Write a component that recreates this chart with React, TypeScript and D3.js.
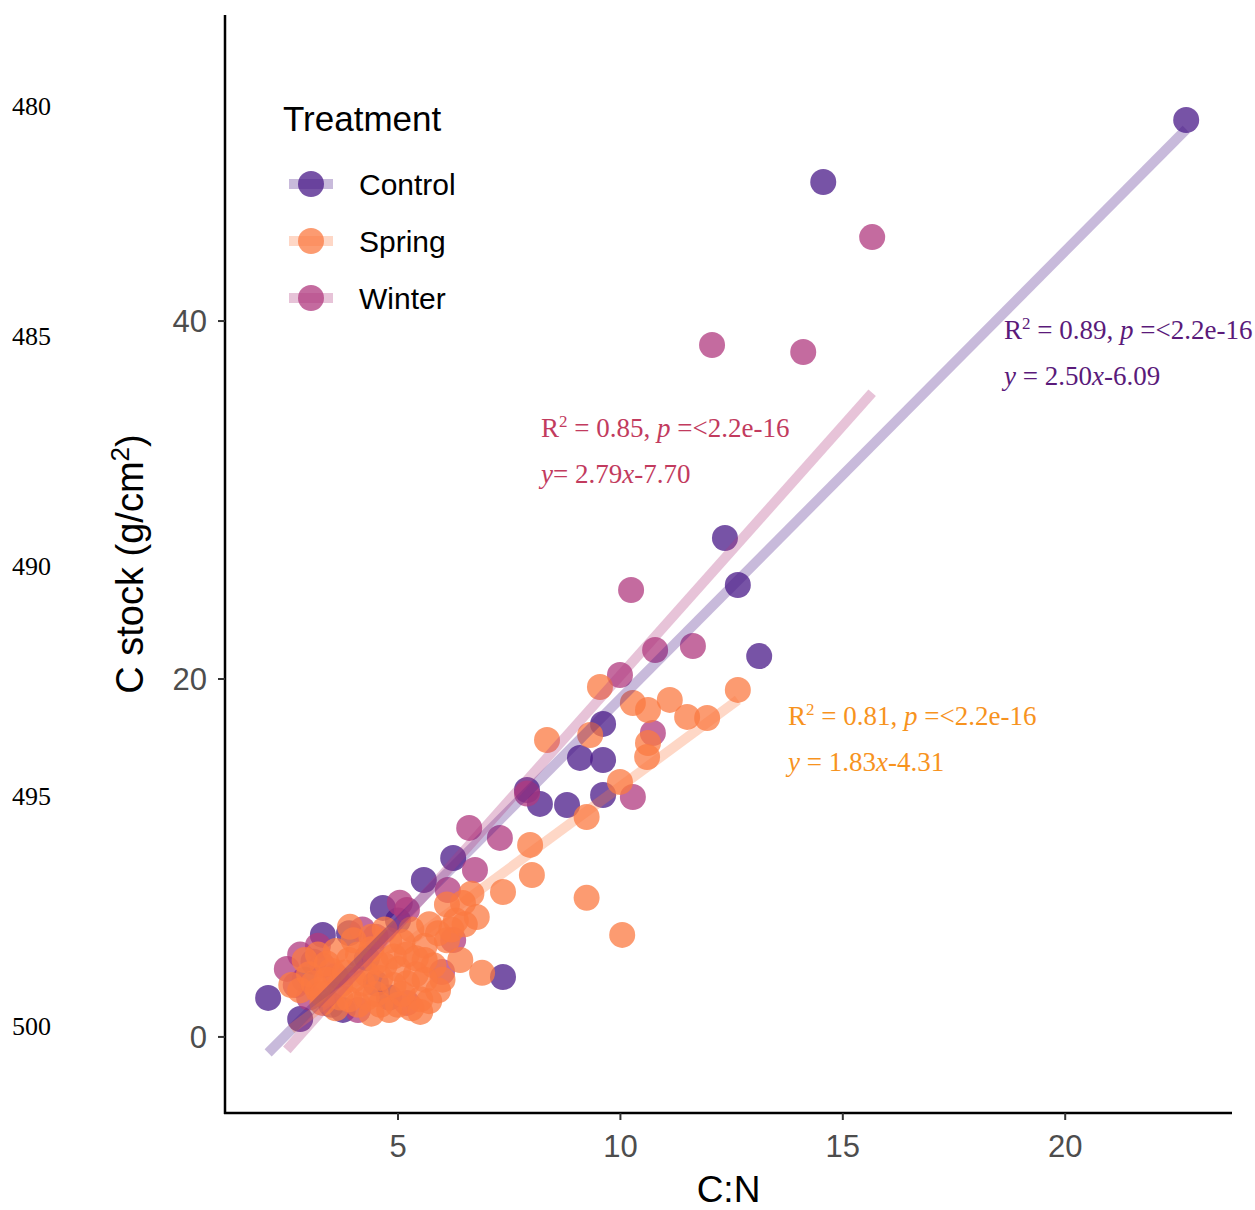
import React from "react";
import * as d3 from "d3";

const treatments = ["Control", "Spring", "Winter"];
const baseColors = ["#4a1a88", "#fb7a42", "#b0397f"];
const textColors = ["#5a1a7a", "#f7931e", "#c23b5e"];

const controlCN = [22.72, 14.56, 12.35, 12.64, 13.12, 9.61, 9.09, 9.61, 9.61, 7.9, 8.19, 8.8, 6.24, 5.58, 4.66, 7.36, 3.31, 2.08, 2.8, 3.76, 3.1, 3.9, 4.3, 3.5, 4.5, 5.0, 4.8, 2.9];
const controlStock = [51.23, 47.77, 27.88, 25.25, 21.28, 17.49, 15.59, 15.47, 13.52, 13.8, 13.02, 12.96, 10.0, 8.77, 7.21, 3.35, 5.7, 2.18, 1.0, 1.51, 4.2, 5.8, 4.4, 1.8, 3.0, 6.5, 2.2, 3.2];

const winterCN = [15.66, 12.06, 14.11, 10.24, 10.78, 11.63, 9.99, 10.73, 10.28, 6.6, 7.29, 6.73, 6.12, 5.2, 6.24, 5.99, 7.9, 2.5, 2.8, 3.2, 2.7, 3.0, 4.2, 4.5, 3.6, 5.04, 4.1, 5.2, 3.3];
const winterStock = [44.69, 38.66, 38.27, 24.97, 21.62, 21.84, 20.22, 16.98, 13.41, 11.68, 11.12, 9.33, 8.21, 7.09, 5.42, 3.63, 13.6, 3.8, 4.6, 5.1, 2.9, 2.2, 6.0, 5.6, 3.4, 7.5, 1.5, 1.9, 4.0];

const springCN = [9.54, 10.28, 10.62, 11.11, 11.5, 11.95, 12.64, 8.35, 10.62, 10.6, 9.99, 9.24, 7.97, 8.01, 9.24, 10.04, 7.36, 6.89, 6.77, 6.46, 9.32, 6.65,
  2.8, 3.0, 3.2, 3.5, 3.7, 3.9, 4.0, 3.9, 4.3, 4.4, 4.5, 4.7, 4.8, 4.9, 5.0, 5.2, 5.3, 5.4, 5.5, 5.6, 5.7, 5.8, 5.9, 6.1, 6.3, 5.7, 4.6, 4.1, 3.2, 2.9, 2.6, 6.1, 6.4, 3.4, 4.2, 4.6, 5.0, 5.4, 3.6, 4.4, 5.1, 3.3, 6.0, 5.3, 4.8, 3.92,
  3.1, 3.4, 3.8, 4.1, 4.5, 4.9, 5.2, 5.6, 4.3, 3.7, 5.1, 5.6, 4.0, 3.3, 5.9, 6.2, 4.7, 6.5, 4.4, 5.5, 3.6];
const springStock = [19.55, 18.66, 18.27, 18.83, 17.88, 17.82, 19.39, 16.59, 16.42, 15.64, 14.25, 12.29, 10.73, 9.05, 7.77, 5.7, 8.1, 3.58, 6.7, 7.49, 16.87, 8.0,
  2.6, 3.5, 2.6, 3.7, 2.9, 4.3, 5.4, 2.1, 3.5, 4.9, 2.4, 4.0, 5.4, 2.9, 1.8, 4.6, 6.0, 3.5, 2.1, 5.1, 6.3, 4.0, 2.6, 5.4, 6.5, 2.0, 1.8, 1.8, 4.6, 4.3, 2.9, 7.4, 4.3, 3.2, 3.0, 3.3, 3.8, 4.4, 4.8, 5.6, 5.3, 1.9, 3.2, 1.6, 1.5, 6.15,
  3.0, 4.1, 3.6, 4.6, 4.2, 4.5, 3.0, 3.2, 2.2, 2.2, 2.4, 4.3, 3.2, 2.4, 5.8, 6.0, 6.0, 6.3, 1.3, 1.4, 1.6];

const fitSlopes = [2.5, 1.83, 2.79];
const fitIntercepts = [-6.09, -4.31, -7.7];
const fitR2 = ["0.89", "0.81", "0.85"];
const fitSlopeLabels = ["2.50", "1.83", "2.79"];
const fitInterceptLabels = ["-6.09", "-4.31", "-7.70"];
const eqSep = [" = ", " = ", "= "];

const xTicks = [5, 10, 15, 20];
const yTicks = [0, 20, 40];
const lineNumbers = ["480", "485", "490", "495", "500"];

const seriesCN = [controlCN, springCN, winterCN];
const seriesStock = [controlStock, springStock, winterStock];

const W = 1255, H = 1210;
const left = 225, right = 1232, top = 15, bottom = 1113;
const x = d3.scaleLinear().domain([1.11, 23.75]).range([left, right]);
const y = d3.scaleLinear().domain([-4.25, 57.1]).range([bottom, top]);

const annoPos = [
  { x: 1004, y: 339 },
  { x: 788, y: 725 },
  { x: 541, y: 437 },
];

export default function App() {
  const drawOrder = [0, 2, 1];
  const line = d3.line<[number, number]>().x((d) => x(d[0])).y((d) => y(d[1]));
  const sans = "'Liberation Sans', Arial, sans-serif";
  const serif = "'Liberation Serif', 'Times New Roman', serif";
  return (
    <svg width={W} height={H} style={{ position: "absolute", left: 0, top: 0, background: "#fff" }}>
      <rect width={W} height={H} fill="#fff" />
      {lineNumbers.map((t, i) => (
        <text key={t} x={12} y={115 + i * 230} fontFamily={serif} fontSize={26} fill="#000">{t}</text>
      ))}
      {drawOrder.map((si) => (
        <g key={treatments[si]} fill={baseColors[si]} fillOpacity={0.75}>
          {seriesCN[si].map((cn, j) => (
            <circle key={j} cx={x(cn)} cy={y(seriesStock[si][j])} r={13} />
          ))}
        </g>
      ))}
      {drawOrder.map((si) => {
        const xs = seriesCN[si];
        const lo = d3.min(xs) as number, hi = d3.max(xs) as number;
        const pts: [number, number][] = [lo, hi].map((v) => [v, fitSlopes[si] * v + fitIntercepts[si]]);
        return (
          <path key={"l" + si} d={line(pts) || ""} stroke={baseColors[si]} strokeOpacity={0.3} strokeWidth={10} fill="none" />
        );
      })}
      <line x1={left} x2={left} y1={top} y2={bottom + 1} stroke="#000" strokeWidth={2.5} />
      <line x1={left - 1} x2={right} y1={bottom} y2={bottom} stroke="#000" strokeWidth={2.5} />
      {yTicks.map((t) => (
        <g key={"yt" + t}>
          <line x1={left - 7} x2={left} y1={y(t)} y2={y(t)} stroke="#333" strokeWidth={2} />
          <text x={left - 18} y={y(t) + 11} textAnchor="end" fontFamily={sans} fontSize={31} fill="#4d4d4d">{t}</text>
        </g>
      ))}
      {xTicks.map((t) => (
        <g key={"xt" + t}>
          <line x1={x(t)} x2={x(t)} y1={bottom} y2={bottom + 7} stroke="#333" strokeWidth={2} />
          <text x={x(t)} y={bottom + 44} textAnchor="middle" fontFamily={sans} fontSize={31} fill="#4d4d4d">{t}</text>
        </g>
      ))}
      <text x={(left + right) / 2} y={1202} textAnchor="middle" fontFamily={sans} fontSize={37} fill="#000">C:N</text>
      <text transform={`translate(143, ${(top + bottom) / 2}) rotate(-90)`} textAnchor="middle" fontFamily={sans} fontSize={38} fill="#000">
        C stock (g/cm<tspan dy={-14} fontSize={26}>2</tspan><tspan dy={14}>)</tspan>
      </text>
      <text x={283} y={131} fontFamily={sans} fontSize={35} fill="#000">Treatment</text>
      {treatments.map((t, i) => {
        const cy = 184 + i * 57;
        return (
          <g key={"lg" + t}>
            <line x1={289} x2={333} y1={cy} y2={cy} stroke={baseColors[i]} strokeOpacity={0.3} strokeWidth={10} />
            <circle cx={311} cy={cy} r={13} fill={baseColors[i]} fillOpacity={0.75} />
            <text x={359} y={cy + 11} fontFamily={sans} fontSize={30} fill="#000">{t}</text>
          </g>
        );
      })}
      {treatments.map((t, i) => (
        <g key={"an" + t} fontFamily={serif} fontSize={27} fill={textColors[i]}>
          <text x={annoPos[i].x} y={annoPos[i].y}>
            R<tspan dy={-10} fontSize={17}>2</tspan><tspan dy={10}>{` = ${fitR2[i]}, `}</tspan>
            <tspan fontStyle="italic">p</tspan>
            <tspan>{" =<2.2e-16"}</tspan>
          </text>
          <text x={annoPos[i].x} y={annoPos[i].y + 46}>
            <tspan fontStyle="italic">y</tspan>
            <tspan>{eqSep[i] + fitSlopeLabels[i]}</tspan>
            <tspan fontStyle="italic">x</tspan>
            <tspan>{fitInterceptLabels[i]}</tspan>
          </text>
        </g>
      ))}
    </svg>
  );
}
